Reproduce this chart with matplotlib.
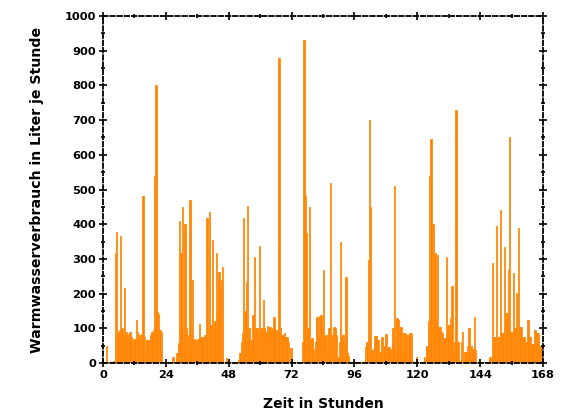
import matplotlib
matplotlib.use("Agg")
import matplotlib.pyplot as plt
from matplotlib.ticker import MultipleLocator

# warm water draw per half hour slot, liters per hour, one list per day
day1 = [3, 3, 50, 3, 3, 3, 3, 3, 5, 316, 378, 90, 95, 366, 100, 85,
        216, 90, 85, 80, 90, 75, 70, 60, 70, 124, 90, 80, 70, 85, 480, 75,
        30, 66, 66, 66, 80, 90, 95, 540, 800, 148, 140, 95, 90, 3, 3, 3]
day2 = [3, 3, 3, 3, 3, 18, 3, 3, 30, 57, 410, 316, 450, 90, 402, 100,
        80, 70, 470, 80, 239, 70, 66, 60, 70, 112, 76, 76, 70, 80, 80, 418,
        100, 436, 110, 354, 100, 120, 316, 150, 263, 216, 240, 277, 3, 3, 14, 3]
day3 = [3, 3, 3, 3, 3, 3, 3, 10, 30, 60, 86, 418, 150, 234, 452, 100,
        66, 66, 138, 306, 100, 100, 90, 337, 100, 100, 182, 100, 90, 107, 104, 104,
        90, 100, 133, 94, 94, 90, 880, 100, 81, 81, 86, 76, 76, 60, 3, 43]
day4 = [3, 3, 3, 3, 3, 3, 3, 3, 60, 930, 480, 374, 100, 450, 66, 72,
        40, 20, 60, 133, 80, 135, 138, 100, 268, 80, 40, 80, 100, 520, 81, 81,
        104, 100, 81, 16, 60, 350, 81, 81, 60, 249, 30, 20, 3, 3, 3, 3]
day5 = [3, 3, 3, 3, 3, 3, 3, 3, 47, 60, 297, 700, 450, 37, 40, 78,
        78, 66, 66, 33, 75, 75, 50, 84, 84, 47, 47, 37, 40, 100, 510, 30,
        130, 125, 104, 104, 25, 86, 86, 81, 81, 81, 86, 86, 5, 3, 3, 16]
day6 = [3, 3, 3, 3, 3, 16, 3, 50, 120, 540, 645, 400, 400, 316, 120, 311,
        105, 105, 90, 86, 72, 72, 306, 110, 110, 130, 222, 37, 60, 730, 61, 61,
        5, 60, 90, 5, 33, 33, 50, 100, 50, 50, 40, 132, 37, 3, 3, 3]
day7 = [3, 3, 3, 3, 3, 3, 3, 16, 16, 287, 75, 75, 395, 75, 75, 441,
        86, 86, 335, 144, 144, 268, 650, 90, 90, 259, 100, 202, 100, 389, 104, 104,
        75, 75, 60, 60, 124, 75, 75, 55, 55, 95, 95, 86, 86, 50, 50, 50]

values = day1 + day2 + day3 + day4 + day5 + day6 + day7
hours = [i * 0.5 for i in range(len(values))]

fig = plt.figure(figsize=(5.67, 4.16), dpi=100)
ax = fig.add_axes([0.1817, 0.1274, 0.776, 0.834])

ax.bar(hours, values, width=0.5, align="edge", color="#ff8400",
       edgecolor="#ff8c10", linewidth=0.6)

ax.set_xlim(0, 168)
ax.set_ylim(0, 1000)
ax.xaxis.set_major_locator(MultipleLocator(24))
ax.xaxis.set_minor_locator(MultipleLocator(12))
ax.yaxis.set_major_locator(MultipleLocator(100))
ax.yaxis.set_minor_locator(MultipleLocator(50))

for side in ["left", "right", "top", "bottom"]:
    ax.spines[side].set_linestyle((0, (2.5, 1.5)))
    ax.spines[side].set_linewidth(1.3)

ax.tick_params(which="both", direction="inout", top=True, right=True, width=1.2)
ax.tick_params(which="major", length=6, labelsize=8.2, pad=2)
ax.tick_params(which="minor", length=3)
for lab in ax.get_xticklabels() + ax.get_yticklabels():
    lab.set_fontweight("bold")

ax.set_xlabel("Zeit in Stunden", fontsize=10, fontweight="bold", labelpad=12)
ax.set_ylabel("Warmwasserverbrauch in Liter je Stunde", fontsize=10.2,
              fontweight="bold", labelpad=15)

fig.savefig("out.png", dpi=100)
